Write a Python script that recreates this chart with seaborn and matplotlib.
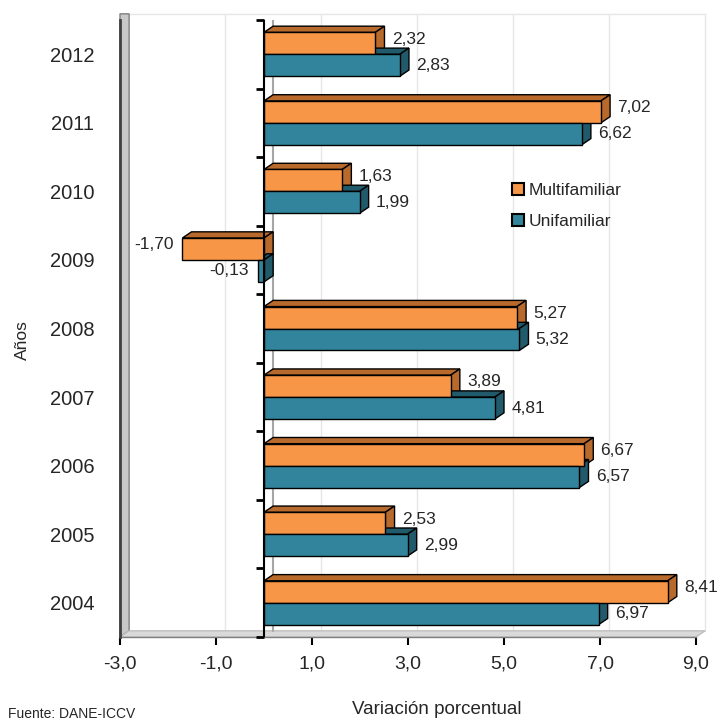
import pandas as pd
import seaborn as sns
import matplotlib.pyplot as plt
from matplotlib.patches import Polygon, Patch

# Chart data
years = ['2012', '2011', '2010', '2009', '2008', '2007', '2006', '2005', '2004']
multifamiliar = [2.32, 7.02, 1.63, -1.70, 5.27, 3.89, 6.67, 2.53, 8.41]
unifamiliar = [2.83, 6.62, 1.99, -0.13, 5.32, 4.81, 6.57, 2.99, 6.97]
series = ['Multifamiliar', 'Unifamiliar']
xticks = [-3, -1, 1, 3, 5, 7, 9]

df = pd.DataFrame({
    'Año': years * 2,
    'Tipo': [series[0]] * len(years) + [series[1]] * len(years),
    'Variación': multifamiliar + unifamiliar,
})

front = {'Multifamiliar': '#F79646', 'Unifamiliar': '#31849B'}
dark = {'Multifamiliar': '#B8692C', 'Unifamiliar': '#215A6A'}

sns.set_style('white')
plt.rcParams['font.family'] = ['Liberation Sans', 'DejaVu Sans']

fig = plt.figure(figsize=(7.26, 7.22), dpi=100)
ax = fig.add_axes([120 / 726, 1 - 637 / 722, 576 / 726, 617 / 722])

sns.barplot(data=df, y='Año', x='Variación', hue='Tipo', order=years,
            hue_order=series, palette=front, saturation=1, width=0.64, orient='h',
            edgecolor='black', linewidth=1, legend=False, ax=ax, zorder=3)

ax.set_xlim(-3, 9)
ax.set_ylim(8.5, -0.5)

# depth offsets for the 3D look (data units)
dx, dy = 0.19, -0.09

# back wall, left wall and floor
for xv in xticks[1:]:
    ax.plot([xv + dx, xv + dx], [8.5 + dy, -0.5 + dy], color='#E6E6E6', lw=1, zorder=0, clip_on=False)
ax.plot([-3 + dx, 9 + dx], [-0.5 + dy, -0.5 + dy], color='#E6E6E6', lw=1, zorder=0, clip_on=False)
ax.add_patch(Polygon([(-3, -0.5 + dy), (-3 + dx, -0.5 + dy), (-3 + dx, 8.5 + dy), (-3, 8.5)],
                     closed=True, facecolor='#C8C8C8', edgecolor='#7F7F7F', lw=1, zorder=1, clip_on=False))
ax.add_patch(Polygon([(-3, 8.5), (9, 8.5), (9 + dx, 8.5 + dy), (-3 + dx, 8.5 + dy)],
                     closed=True, facecolor='#D9D9D9', edgecolor='#BFBFBF', lw=1, zorder=1, clip_on=False))
ax.plot([0 + dx, 0 + dx], [8.5 + dy, -0.5 + dy], color='#A6A6A6', lw=1.5, zorder=1)

# side and top faces of the bars
n = len(years)
for i, bar in enumerate(ax.patches[:2 * n]):
    tipo = series[i // n]
    x0, w = bar.get_x(), bar.get_width()
    y0, h = bar.get_y(), bar.get_height()
    xl, xr = min(x0, x0 + w), max(x0, x0 + w)
    yt, yb = min(y0, y0 + h), max(y0, y0 + h)
    top = Polygon([(xl, yt), (xr, yt), (xr + dx, yt + dy), (xl + dx, yt + dy)],
                  closed=True, facecolor=dark[tipo], edgecolor='black', lw=1, zorder=2)
    side = Polygon([(xr, yt), (xr + dx, yt + dy), (xr + dx, yb + dy), (xr, yb)],
                   closed=True, facecolor=dark[tipo], edgecolor='black', lw=1, zorder=2)
    ax.add_patch(top)
    ax.add_patch(side)
    val = x0 + w
    yc = (yt + yb) / 2 + (-0.06 if tipo == 'Multifamiliar' else 0.0)
    txt = f'{val:.2f}'.replace('.', ',')
    if val >= 0:
        ax.text(xr + dx + 0.15, yc, txt, ha='left', va='center', fontsize=12.5, zorder=5)
    else:
        ax.text(xl - 0.18, yc, txt, ha='right', va='center', fontsize=12.5, zorder=5)

# zero axis with category tick marks
ax.axvline(0, color='black', lw=1.5, zorder=4)
ax.plot([0] * (n + 1), [k - 0.5 for k in range(n + 1)], linestyle='none', marker=0,
        markersize=6, markeredgewidth=2, color='black', zorder=4, clip_on=False)

for s in ['top', 'right', 'bottom']:
    ax.spines[s].set_visible(False)
ax.spines['left'].set_color('#404040')
ax.spines['left'].set_linewidth(2)
ax.plot([-3, 9], [8.5, 8.5], color='#7F7F7F', lw=1, zorder=1, clip_on=False)

ax.set_xticks(xticks)
ax.set_xticklabels([f'{t:.1f}'.replace('.', ',') for t in xticks], fontsize=14)
ax.tick_params(axis='x', bottom=True, length=6, width=1.5, color='black', pad=7)
ax.tick_params(axis='y', left=False, labelsize=14.5, pad=15)
for lbl in ax.get_yticklabels():
    lbl.set_y(lbl.get_position()[1])
ax.set_xlabel('')
ax.set_ylabel('')

fig.text(22 / 726, 1 - 340 / 722, 'Años', rotation=90, ha='center', va='center', fontsize=12.5)
fig.text(437 / 726, 1 - 710 / 722, 'Variación porcentual', ha='center', va='center', fontsize=13.5)
fig.text(8 / 726, 4 / 722, 'Fuente: DANE-ICCV', ha='left', va='baseline', fontsize=10)

handles = [Patch(facecolor=front[s], edgecolor='black', lw=1.5) for s in series]
fig.legend(handles, series, loc='upper left', bbox_to_anchor=(512 / 726, 1 - 183 / 722),
           frameon=False, fontsize=12.5, handlelength=0.7, handleheight=0.7,
           handletextpad=0.25, labelspacing=0.9, borderaxespad=0, borderpad=0)

fig.savefig('out.png', dpi=100)
